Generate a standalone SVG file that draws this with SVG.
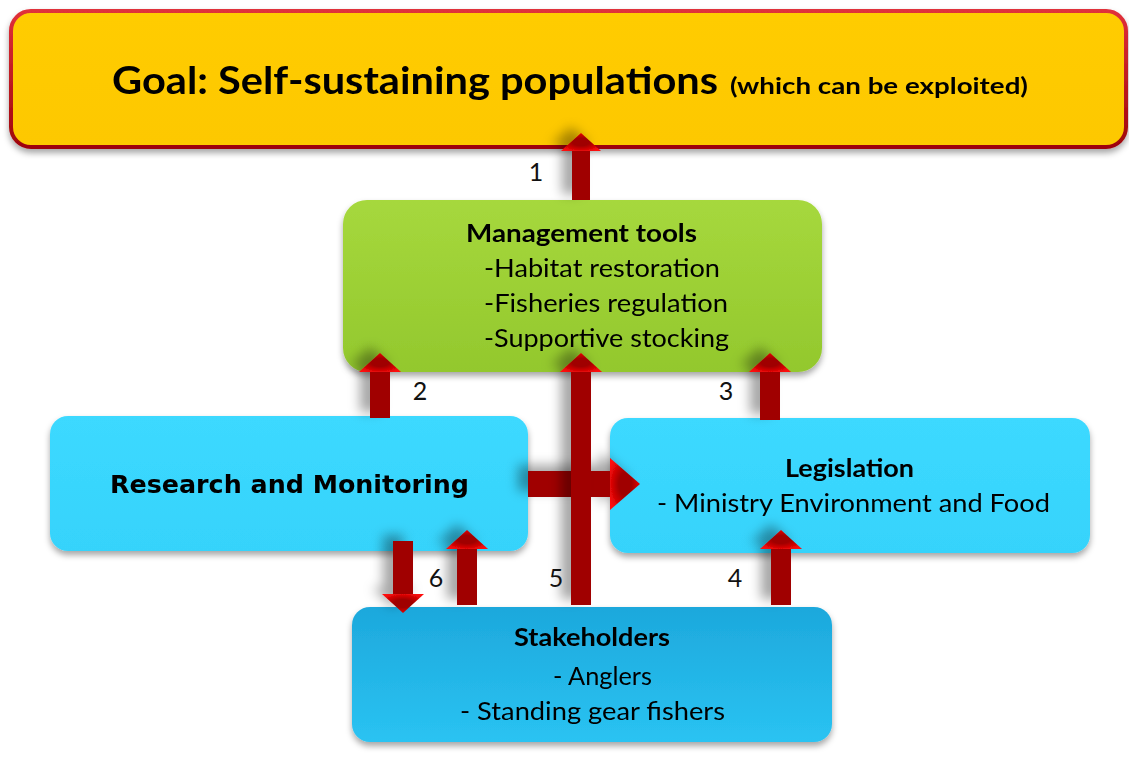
<svg xmlns="http://www.w3.org/2000/svg" width="1129" height="771" viewBox="0 0 1129 771">
<defs>
<linearGradient id="gGoal" x1="0" y1="0" x2="0" y2="1"><stop offset="0" stop-color="#FFCC05"/><stop offset="1" stop-color="#FDC800"/></linearGradient>
<linearGradient id="gGoalStroke" x1="0" y1="0" x2="0" y2="1"><stop offset="0" stop-color="#E0303A"/><stop offset="1" stop-color="#9E050A"/></linearGradient>
<linearGradient id="gGreen" x1="0" y1="0" x2="0" y2="1"><stop offset="0" stop-color="#A6D83D"/><stop offset="1" stop-color="#93C82D"/></linearGradient>
<linearGradient id="gCyan" x1="0" y1="0" x2="0" y2="1"><stop offset="0" stop-color="#3CD9FF"/><stop offset="1" stop-color="#36D3FB"/></linearGradient>
<linearGradient id="gBlue" x1="0" y1="0" x2="0" y2="1"><stop offset="0" stop-color="#1DA8DC"/><stop offset="1" stop-color="#2AC3F2"/></linearGradient>
<radialGradient id="gHead" cx="0.5" cy="0.5" r="0.6"><stop offset="0.35" stop-color="#A00000"/><stop offset="1" stop-color="#FF0A0A"/></radialGradient>
<filter id="boxShadow" x="-5%" y="-10%" width="110%" height="130%"><feDropShadow dx="0" dy="4" stdDeviation="3" flood-color="#000" flood-opacity="0.35"/></filter>
<filter id="arrowShadow" x="-100%" y="-30%" width="300%" height="160%"><feDropShadow dx="-10" dy="-6" stdDeviation="6" flood-color="#000" flood-opacity="0.35"/></filter>
</defs>
<style>
.cal{font-family:Lato,"Open Sans","Liberation Sans",sans-serif;fill:#000}
.b{font-weight:bold}
.num{font-family:Lato,"Open Sans","Liberation Sans",sans-serif;font-size:25px;fill:#111;text-anchor:middle}
.shaft{fill:#A00000}
.head{fill:url(#gHead)}
</style>

<g id="goal" filter="url(#boxShadow)">
<rect x="11" y="11" width="1115" height="136" rx="20" fill="url(#gGoal)" stroke="url(#gGoalStroke)" stroke-width="4"/>
<text class="cal b" x="112" y="94" font-size="38" textLength="606" lengthAdjust="spacingAndGlyphs">Goal: Self-sustaining populations</text>
<text class="cal b" x="730" y="94" font-size="22" textLength="298" lengthAdjust="spacingAndGlyphs">(which can be exploited)</text>
</g>

<g id="management" filter="url(#boxShadow)">
<rect x="343" y="200" width="479" height="172" rx="24" fill="url(#gGreen)"/>
<text class="cal b" x="466" y="242" font-size="24" textLength="231" lengthAdjust="spacingAndGlyphs">Management tools</text>
<text class="cal" x="484" y="277" font-size="25" textLength="236" lengthAdjust="spacingAndGlyphs">-Habitat restoration</text>
<text class="cal" x="484" y="312" font-size="25" textLength="244" lengthAdjust="spacingAndGlyphs">-Fisheries regulation</text>
<text class="cal" x="484" y="347" font-size="25" textLength="245" lengthAdjust="spacingAndGlyphs">-Supportive stocking</text>
</g>

<g id="research" filter="url(#boxShadow)">
<rect x="50" y="416" width="478" height="135" rx="18" fill="url(#gCyan)"/>
<text x="110" y="493" font-family="'DejaVu Sans',Verdana,sans-serif" font-weight="bold" font-size="25" fill="#000" textLength="359" lengthAdjust="spacingAndGlyphs">Research and Monitoring</text>
</g>

<g id="legislation" filter="url(#boxShadow)">
<rect x="610" y="418" width="480" height="135" rx="18" fill="url(#gCyan)"/>
<text class="cal b" x="785" y="477" font-size="24" textLength="129" lengthAdjust="spacingAndGlyphs">Legislation</text>
<text class="cal" x="657" y="512" font-size="25" textLength="393" lengthAdjust="spacingAndGlyphs">- Ministry Environment  and Food</text>
</g>

<g id="stakeholders" filter="url(#boxShadow)">
<rect x="352" y="607" width="480" height="135" rx="18" fill="url(#gBlue)"/>
<text class="cal b" x="514" y="646" font-size="24" textLength="156" lengthAdjust="spacingAndGlyphs">Stakeholders</text>
<text class="cal" x="553" y="685" font-size="25" textLength="99" lengthAdjust="spacingAndGlyphs">- Anglers</text>
<text class="cal" x="460" y="720" font-size="25" textLength="265" lengthAdjust="spacingAndGlyphs">- Standing gear fishers</text>
</g>

<g id="connectors">
<g filter="url(#arrowShadow)">
<rect class="shaft" x="528" y="471" width="86" height="26"/>
<polygon class="head" points="610,458 640,484 610,510"/>
</g>
<g filter="url(#arrowShadow)">
<rect class="shaft" x="572" y="150" width="18" height="50"/>
<polygon class="head" points="561,151 581,133 601,151"/>
</g>
<g filter="url(#arrowShadow)">
<rect class="shaft" x="370" y="370" width="20" height="48"/>
<polygon class="head" points="359,372 380,353 401,372"/>
</g>
<g filter="url(#arrowShadow)">
<rect class="shaft" x="760" y="370" width="20" height="50"/>
<polygon class="head" points="749,372 770,353 791,372"/>
</g>
<g filter="url(#arrowShadow)">
<rect class="shaft" x="571" y="370" width="20" height="235"/>
<polygon class="head" points="560,372 581,353 602,372"/>
</g>
<g filter="url(#arrowShadow)">
<rect class="shaft" x="393" y="541" width="20" height="56"/>
<polygon class="head" points="382,594 403,613 424,594"/>
</g>
<g filter="url(#arrowShadow)">
<rect class="shaft" x="457" y="547" width="20" height="58"/>
<polygon class="head" points="446,549 467,530 488,549"/>
</g>
<g filter="url(#arrowShadow)">
<rect class="shaft" x="771" y="547" width="20" height="58"/>
<polygon class="head" points="760,549 781,530 802,549"/>
</g>
<text class="num" x="536" y="181">1</text>
<text class="num" x="420" y="400">2</text>
<text class="num" x="726" y="400">3</text>
<text class="num" x="436" y="587">6</text>
<text class="num" x="556" y="587">5</text>
<text class="num" x="735" y="587">4</text>
</g>
</svg>
